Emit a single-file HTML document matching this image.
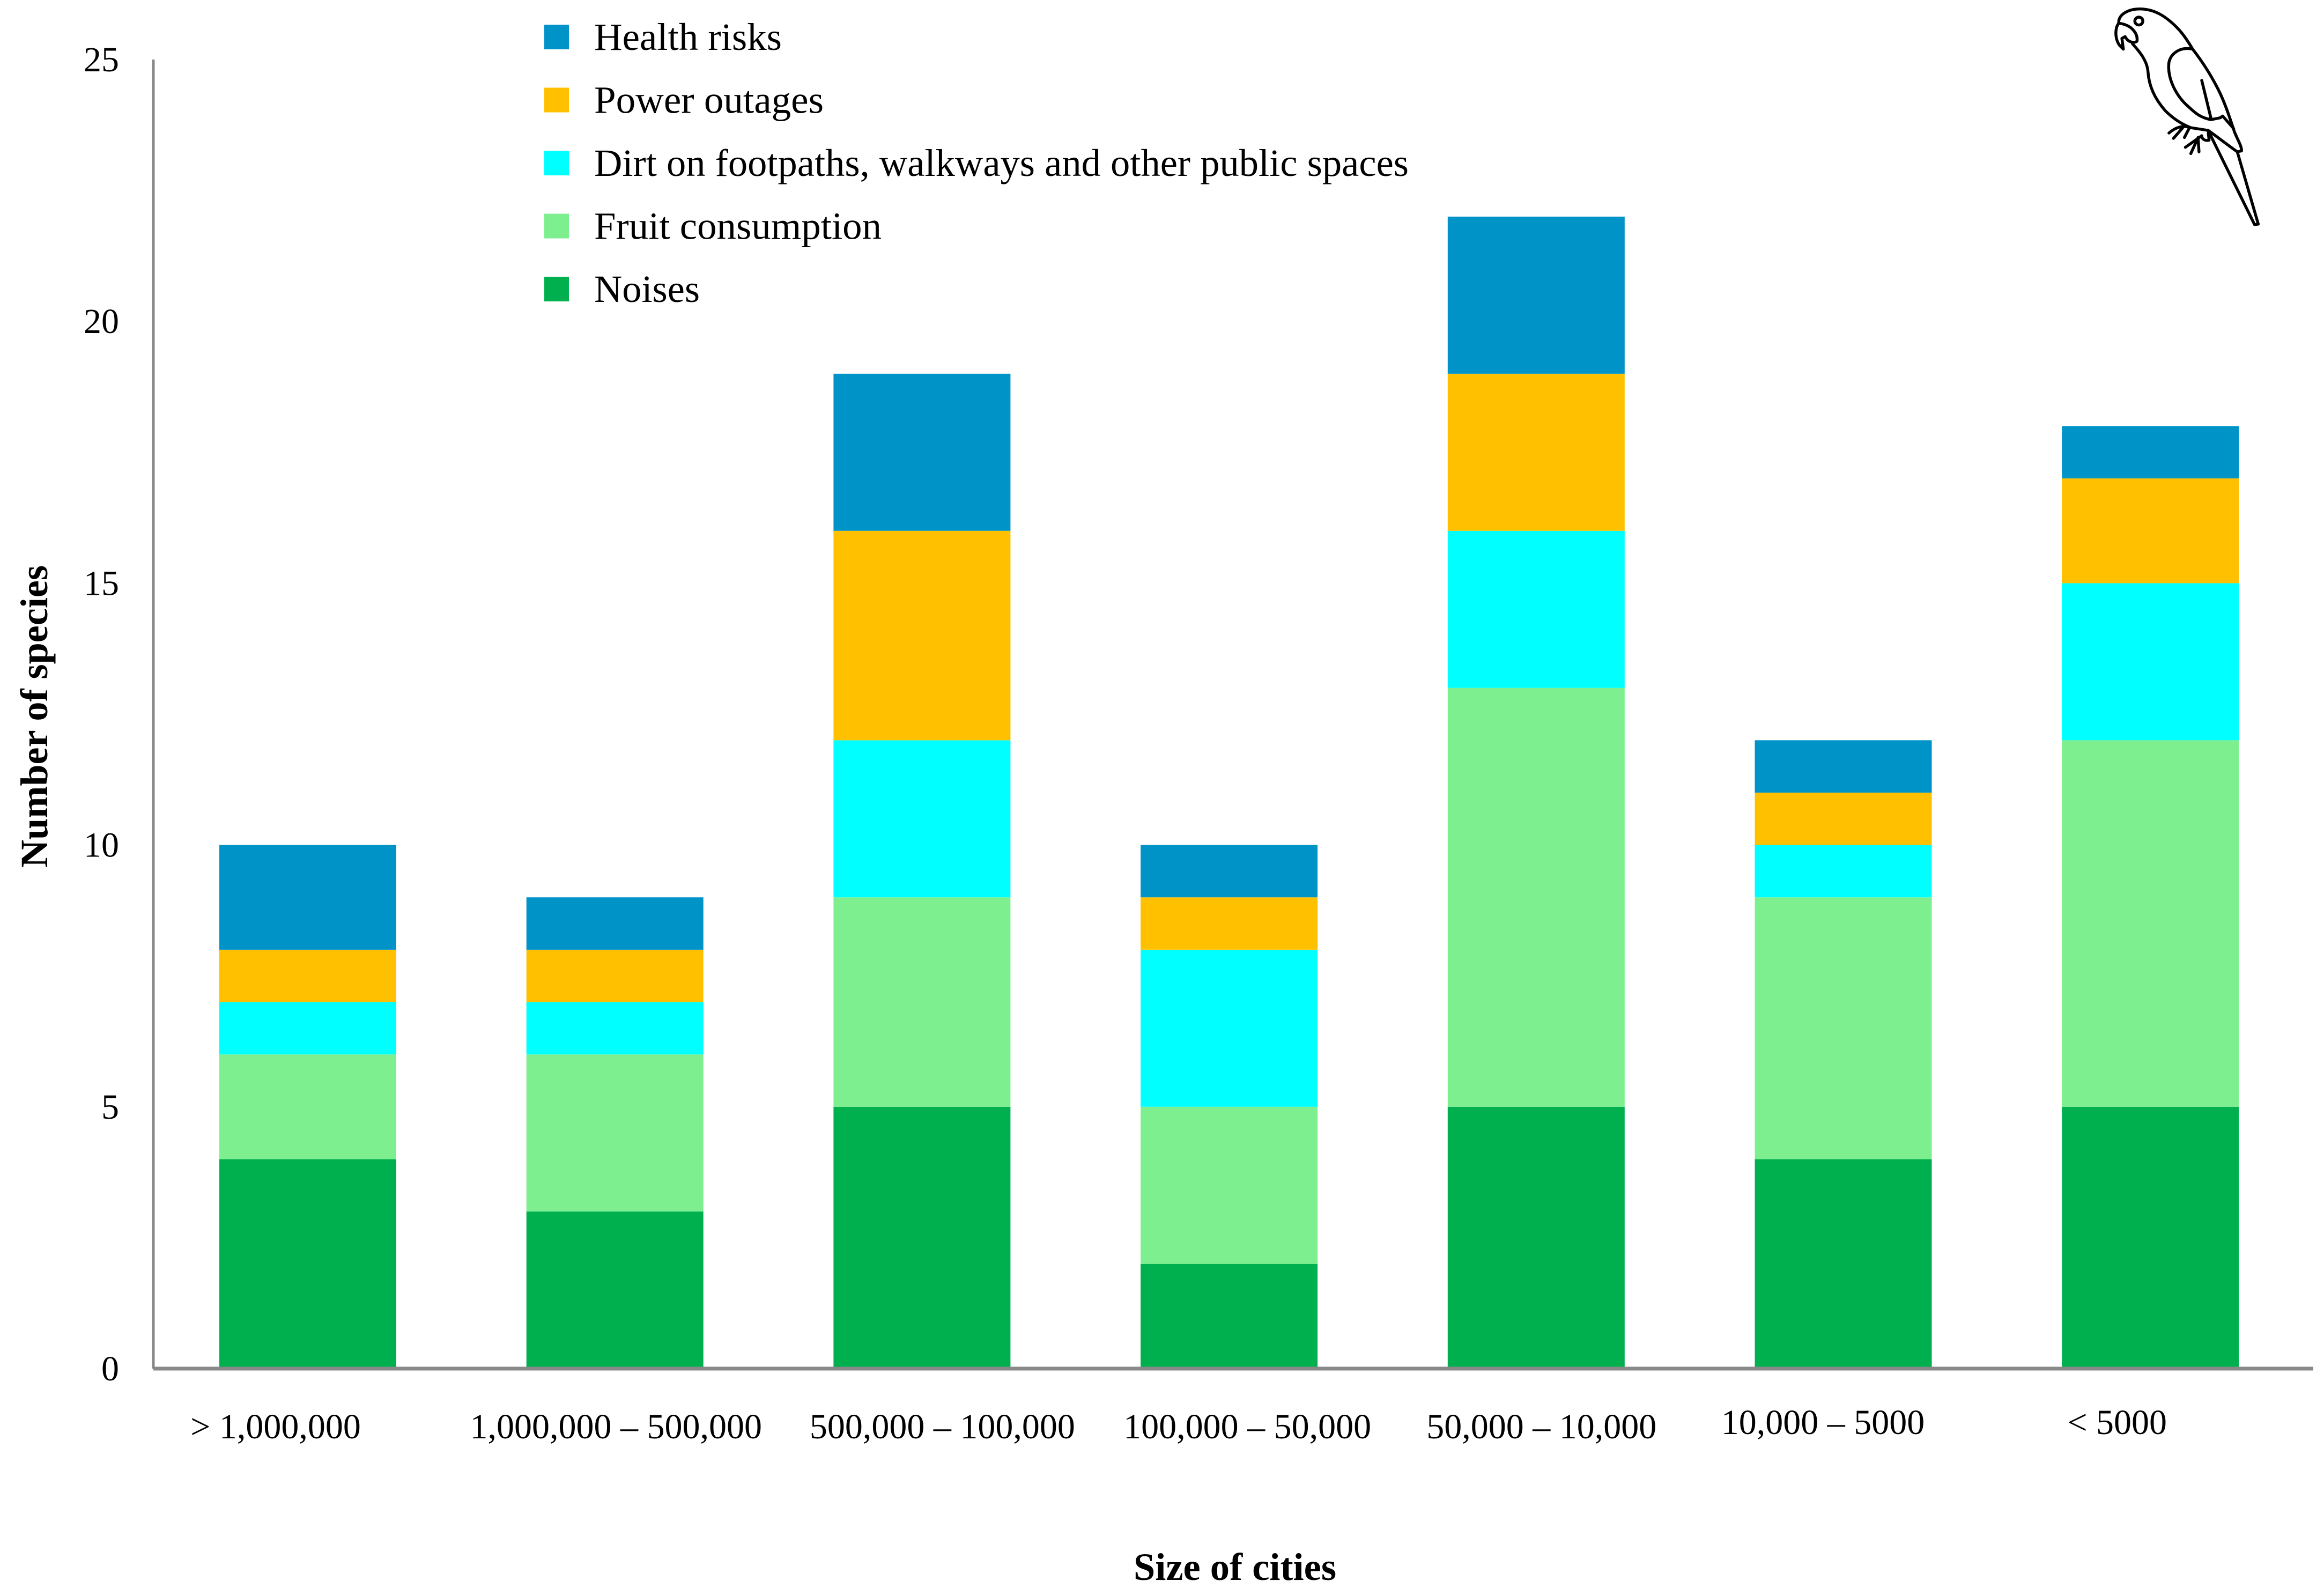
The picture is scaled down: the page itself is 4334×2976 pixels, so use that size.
<!DOCTYPE html>
<html><head><meta charset="utf-8"><style>
html,body{margin:0;padding:0;background:#fff;}
svg{display:block;font-family:"Liberation Serif",serif;}
</style></head><body>
<svg id="chart" width="4334" height="2976" viewBox="0 0 4334 2976" xmlns="http://www.w3.org/2000/svg">
<g id="bars"></g>
<g id="axes"></g>
<g id="legend"></g>
<text x="2303" y="2946" font-size="72" font-weight="bold" text-anchor="middle" textLength="378" lengthAdjust="spacingAndGlyphs">Size of cities</text>
<text transform="translate(88,1336) rotate(-90)" font-size="72" font-weight="bold" text-anchor="middle" textLength="564" lengthAdjust="spacingAndGlyphs">Number of species</text>
<g transform="translate(3800,0) scale(0.34,0.333)" fill="none" stroke="#000" stroke-width="16" stroke-linecap="round" stroke-linejoin="round">
<path d="M445,130 C440,80 500,50 560,50 C640,50 700,90 760,150 C800,190 830,240 850,275 C900,340 950,420 990,500 C1030,580 1060,680 1080,740 C1100,790 1120,820 1118,845 L1095,850 L1210,1255 L1190,1258 L935,730 M445,130 C420,160 425,230 455,260 L470,275 L462,215 L480,205 C500,245 540,240 545,230 C550,190 520,140 445,130 M520,245 C560,290 600,340 605,400 C610,480 640,550 700,620 C740,660 780,690 840,715 L935,730 C990,770 1040,810 1095,850 M850,275 C780,260 730,300 720,350 C710,440 760,540 830,600 C870,640 900,660 950,670 L1000,660 L1015,650 L1075,720 M900,450 L950,660 M840,715 C800,700 760,710 720,745 M800,710 L745,775 M830,720 L805,770 M900,760 C900,780 920,790 940,785 L935,730 M900,760 L810,825 M880,770 L840,860 M880,775 L885,850"/>
<circle cx="555" cy="118" r="22"/>
</g>
<script>
const categories = ["> 1,000,000","1,000,000 – 500,000","500,000 – 100,000","100,000 – 50,000","50,000 – 10,000","10,000 – 5000","< 5000"];
const seriesNames = ["Noises","Fruit consumption","Dirt on footpaths, walkways and other public spaces","Power outages","Health risks"];
const noises = [4,3,5,2,5,4,5];
const fruit = [2,3,4,3,8,5,7];
const dirt = [1,1,3,3,3,1,3];
const power = [1,1,4,1,3,1,2];
const health = [2,1,3,1,3,1,1];
const yTicks = [0,5,10,15,20,25];
const colors = ["#00b04f","#7def8e","#00ffff","#ffc000","#0093c8"];
const NS="http://www.w3.org/2000/svg";
const x0=286, x1=4314, yBase=2552, yTop=111, yMax=25;
const band=572.7, firstCenter=574, barW=330;
function yScale(v){return yBase-(yBase-yTop)*v/yMax;}
function xCenter(i){return firstCenter+i*band;}
const series=[noises,fruit,dirt,power,health];
const bars=document.getElementById('bars');
categories.forEach((c,i)=>{
  let cum=0;
  series.forEach((s,k)=>{
    const r=document.createElementNS(NS,'rect');
    r.setAttribute('x',xCenter(i)-barW/2);
    r.setAttribute('y',yScale(cum+s[i]));
    r.setAttribute('width',barW);
    r.setAttribute('height',yScale(cum)-yScale(cum+s[i]));
    r.setAttribute('fill',colors[k]);
    
    
    bars.appendChild(r);
    cum+=s[i];
  });
});
const axes=document.getElementById('axes');
const ya=document.createElementNS(NS,'line');
ya.setAttribute('x1',x0);ya.setAttribute('x2',x0);ya.setAttribute('y1',yTop);ya.setAttribute('y2',yBase);
ya.setAttribute('stroke','#888');ya.setAttribute('stroke-width','5');


axes.appendChild(ya);
const xa=document.createElementNS(NS,'line');
xa.setAttribute('x1',x0);xa.setAttribute('x2',x1);xa.setAttribute('y1',yBase);xa.setAttribute('y2',yBase);
xa.setAttribute('stroke','#888');xa.setAttribute('stroke-width','7');


axes.appendChild(xa);
yTicks.forEach(t=>{
  const tx=document.createElementNS(NS,'text');
  tx.setAttribute('x',222);tx.setAttribute('y',yScale(t)+22);
  tx.setAttribute('font-size','66');tx.setAttribute('text-anchor','end');
  tx.textContent=t;
  
  
  axes.appendChild(tx);
});
const labelOffsets=[-60,2,38,34,10,-38,-62];
const labelY=[2682,2682,2682,2682,2682,2674,2674];
categories.forEach((c,i)=>{
  const tx=document.createElementNS(NS,'text');
  tx.setAttribute('x',xCenter(i)+labelOffsets[i]);tx.setAttribute('y',labelY[i]);
  tx.setAttribute('font-size','66');tx.setAttribute('text-anchor','middle');
  tx.textContent=c;
  
  
  axes.appendChild(tx);
});
const legend=document.getElementById('legend');
const legOrder=[4,3,2,1,0];
const legWidths=[350,428,1519,536,197];
legOrder.forEach((k,j)=>{
  const cy=69+j*117.5;
  const r=document.createElementNS(NS,'rect');
  r.setAttribute('x',1015);r.setAttribute('y',cy-23);r.setAttribute('width',46);r.setAttribute('height',46);
  r.setAttribute('fill',colors[k]);
  
  
  legend.appendChild(r);
  const tx=document.createElementNS(NS,'text');
  tx.setAttribute('x',1108);tx.setAttribute('y',cy+24);tx.setAttribute('font-size','72');
  tx.setAttribute('textLength',legWidths[j]);tx.setAttribute('lengthAdjust','spacingAndGlyphs');
  tx.textContent=seriesNames[k];
  
  
  legend.appendChild(tx);
});
</script>
</svg>
</body></html>
